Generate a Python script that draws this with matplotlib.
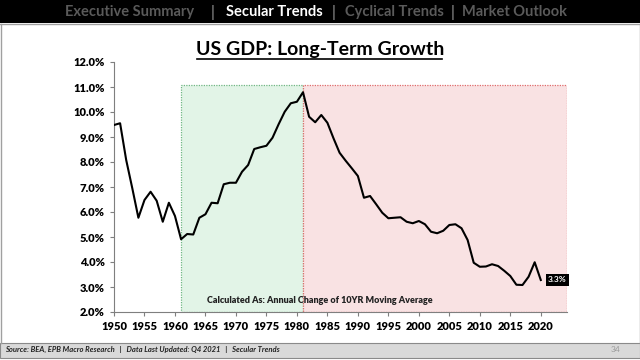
import matplotlib.pyplot as plt
from matplotlib.patches import Rectangle
from matplotlib.ticker import FuncFormatter, MultipleLocator

plt.rcParams["font.family"] = ["Lato", "DejaVu Sans"]

years = list(range(1950, 2021))
gdp_growth = [
    9.48, 9.55, 8.08, 6.95, 5.77, 6.48, 6.81, 6.45, 5.61, 6.37,
    5.84, 4.91, 5.12, 5.10, 5.77, 5.91, 6.37, 6.35, 7.11, 7.17,
    7.17, 7.61, 7.88, 8.52, 8.59, 8.65, 8.97, 9.51, 10.01, 10.35,
    10.41, 10.79, 9.81, 9.59, 9.88, 9.57, 8.95, 8.37, 8.05, 7.75,
    7.44, 6.57, 6.64, 6.31, 5.97, 5.75, 5.77, 5.79, 5.61, 5.55,
    5.64, 5.51, 5.21, 5.15, 5.25, 5.48, 5.51, 5.35, 4.88, 3.97,
    3.81, 3.82, 3.91, 3.84, 3.65, 3.44, 3.09, 3.08, 3.41, 3.99,
    3.28,
]

green_span = (1961, 1981)
red_span = (1981, 2024.3)
span_top = 11.1

nav_items = ["Executive Summary", "Secular Trends", "Cyclical Trends", "Market Outlook"]
nav_x = [130, 274, 394, 515]
sep_x = [213, 334, 453]

fig = plt.figure(figsize=(6.4, 3.6), dpi=100)

# top navigation band
fig.patches.append(Rectangle((0, 1 - 23 / 360), 1, 23 / 360, transform=fig.transFigure,
                             facecolor="black", edgecolor="none", zorder=0))
fig.lines.append(plt.Line2D([0, 1], [1 - 24 / 360] * 2, transform=fig.transFigure,
                            color="#a0a0a0", lw=1))
for name, x in zip(nav_items, nav_x):
    active = name == "Secular Trends"
    fig.text(x / 640, 1 - 12 / 360, name, ha="center", va="center", fontsize=10.5,
             fontweight="bold", color="white" if active else "#5a5a5a")
for x in sep_x:
    fig.text(x / 640, 1 - 12 / 360, "|", ha="center", va="center", fontsize=10.5,
             color="#7a7a7a", fontweight="bold")

# footer band
fig.patches.append(Rectangle((0, 2 / 360), 1, 15 / 360, transform=fig.transFigure,
                             facecolor="#d9d9d9", edgecolor="#8a8a8a", lw=0.8, zorder=0))
fig.text(5 / 640, 1 - 349 / 360,
         "Source: BEA, EPB Macro Research   |   Data Last Updated: Q4 2021   |   Secular Trends",
         ha="left", va="center", fontsize=5.5, fontweight="bold", style="italic", color="#222222")
fig.text(616 / 640, 1 - 349 / 360, "34", ha="center", va="center", fontsize=6, color="#9a9a9a")

# slide border on sides
fig.lines.append(plt.Line2D([0.5 / 640] * 2, [17 / 360, 1 - 24 / 360], transform=fig.transFigure,
                            color="#a0a0a0", lw=1))
fig.lines.append(plt.Line2D([639.5 / 640] * 2, [17 / 360, 1 - 24 / 360], transform=fig.transFigure,
                            color="#a0a0a0", lw=1))

# title
fig.text(0.5, 1 - 50 / 360, "US GDP: Long-Term Growth", ha="center", va="center",
         fontsize=14, fontweight="bold", color="black")
fig.lines.append(plt.Line2D([197 / 640, 442 / 640], [1 - 59 / 360] * 2, transform=fig.transFigure,
                            color="black", lw=1.2))

ax = fig.add_axes([114 / 640, 1 - 312 / 360, (567 - 114) / 640, 250 / 360])

ax.add_patch(Rectangle((green_span[0], 2), green_span[1] - green_span[0], span_top - 2,
                       facecolor="#e2f4e7", edgecolor="#6fb683", lw=0.9, ls=(0, (1, 1)), zorder=1))
ax.add_patch(Rectangle((red_span[0], 2), red_span[1] - red_span[0], span_top - 2,
                       facecolor="#f9e2e3", edgecolor="#e06c6c", lw=0.9, ls=(0, (1, 1)), zorder=1))

ax.plot(years, gdp_growth, color="black", lw=1.5, zorder=3)

ax.text(years[-1] + 1.2, gdp_growth[-1], f"{gdp_growth[-1]:.1f}%", ha="left", va="center",
        fontsize=6, fontweight="bold", color="white", zorder=4,
        bbox=dict(boxstyle="square,pad=0.25", facecolor="black", edgecolor="none"))

ax.text(1983.7, 2.45, "Calculated As: Annual Change of 10YR Moving Average", ha="center",
        va="center", fontsize=6.5, fontweight="heavy", color="#222222", zorder=4)

ax.set_xlim(1950, 2024.3)
ax.set_ylim(2, 12)
ax.xaxis.set_major_locator(MultipleLocator(5))
ax.yaxis.set_major_locator(MultipleLocator(1))
ax.yaxis.set_major_formatter(FuncFormatter(lambda v, p: f"{v:.1f}%"))
for side in ["top", "right"]:
    ax.spines[side].set_visible(False)
for side in ["left", "bottom"]:
    ax.spines[side].set_color("#7f7f7f")
    ax.spines[side].set_linewidth(0.8)
ax.tick_params(axis="both", labelsize=8, colors="#7f7f7f", labelcolor="black", length=3, width=0.8)
for lbl in ax.get_xticklabels() + ax.get_yticklabels():
    lbl.set_fontweight("heavy")

fig.savefig("out.png", dpi=100)
